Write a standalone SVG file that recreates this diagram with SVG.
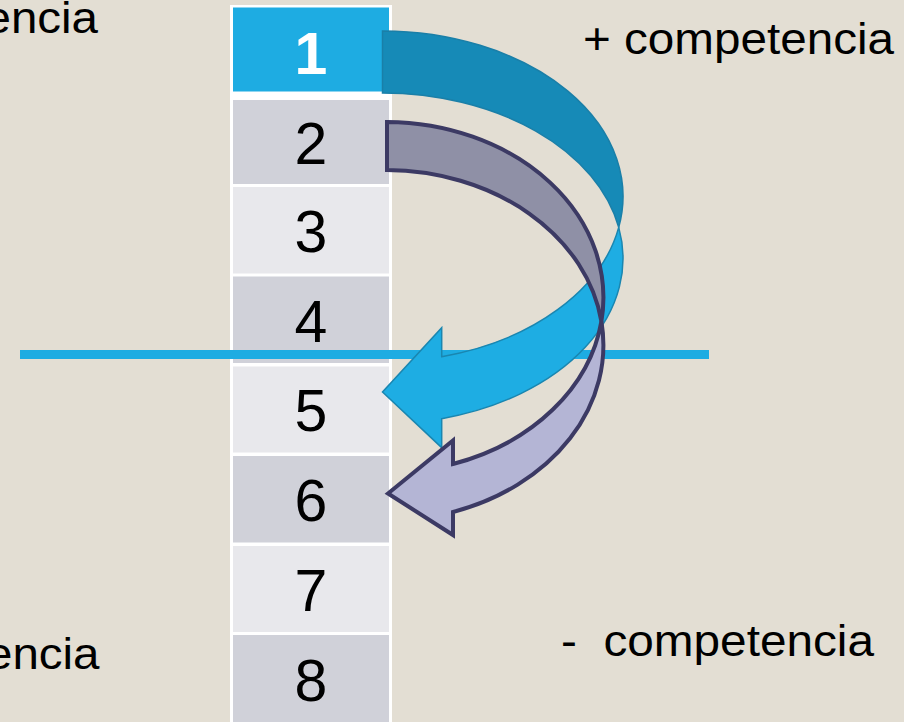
<svg xmlns="http://www.w3.org/2000/svg" width="904" height="722" viewBox="0 0 904 722">
  <style>
    .lbl { font-family: "Liberation Sans", Arial, sans-serif; font-size: 44px; fill: #000; }
    .num { font-family: "Liberation Sans", Arial, sans-serif; font-size: 59px; fill: #000; text-anchor: middle; }
    .num-hd { fill: #fff; font-weight: bold; }
    .cell-hd { fill: #1EACE2; }
    .cell-a { fill: #D0D1D9; }
    .cell-b { fill: #E8E8EC; }
    .blue-back { fill: #168AB7; stroke: #1A7FA8; stroke-width: 1.5; stroke-linejoin: miter; }
    .blue-front { fill: #1EADE3; stroke: #1A86B0; stroke-width: 1.5; stroke-linejoin: miter; }
    .lav-back { fill: #8F90A6; stroke: #3C3A64; stroke-width: 4; stroke-linejoin: miter; }
    .lav-front { fill: #B4B5D5; stroke: #3C3A64; stroke-width: 4; stroke-linejoin: miter; }
  </style>

  <!-- background -->
  <rect x="0" y="0" width="904" height="722" fill="#E3DED3"/>

  <!-- side labels -->
  <g id="labels">
    <text class="lbl" x="-15.5" y="32.5" textLength="113.5" lengthAdjust="spacingAndGlyphs">encia</text>
    <text class="lbl" x="-14" y="669" textLength="113.5" lengthAdjust="spacingAndGlyphs">encia</text>
    <text class="lbl" x="583" y="53.5" textLength="311" lengthAdjust="spacingAndGlyphs">+ competencia</text>
    <text class="lbl" x="561" y="656" textLength="313" lengthAdjust="spacingAndGlyphs" xml:space="preserve">-  competencia</text>
  </g>

  <!-- ranking column -->
  <g id="table">
    <rect x="230" y="5" width="162" height="720" fill="#FFFFFF"/>
    <g id="row1"><rect class="cell-hd" x="233" y="7.5" width="156" height="84"/><text class="num num-hd" x="311" y="74">1</text></g>
    <g id="row2"><rect class="cell-a" x="233" y="100" width="156" height="84"/><text class="num" x="311" y="163.5">2</text></g>
    <g id="row3"><rect class="cell-b" x="233" y="187" width="156" height="86.5"/><text class="num" x="311" y="252">3</text></g>
    <g id="row4"><rect class="cell-a" x="233" y="276.5" width="156" height="86.5"/><text class="num" x="311" y="341.5">4</text></g>
    <g id="row5"><rect class="cell-b" x="233" y="366.5" width="156" height="86"/><text class="num" x="311" y="431">5</text></g>
    <g id="row6"><rect class="cell-a" x="233" y="456" width="156" height="86.5"/><text class="num" x="311" y="521">6</text></g>
    <g id="row7"><rect class="cell-b" x="233" y="546" width="156" height="86"/><text class="num" x="311" y="611">7</text></g>
    <g id="row8"><rect class="cell-a" x="233" y="635" width="156" height="90"/><text class="num" x="311" y="701">8</text></g>
  </g>

  <!-- cut-off line -->
  <g id="divider">
    <rect x="20" y="350" width="689" height="9" fill="#1EACE2"/>
  </g>

  <!-- curved arrows -->
  <g id="connectors">
    <g id="arrow-1-to-5">
      <path class="blue-back" d="M 382.5 31 A 241 165.4 0 0 1 618.73 227.4 A 241 165.4 0 0 0 382.5 93 Z"/>
      <path class="blue-front" d="M 618.73 227.4 A 241 165.4 0 0 1 441.7 418.65 L 441.7 447.65 L 382.5 392 L 441.7 327.65 L 441.7 356.65 A 241 165.4 0 0 0 618.73 227.4 Z"/>
    </g>
    <g id="arrow-2-to-6">
      <path class="lav-back" d="M 387 122 A 218 175.6 0 0 1 601.4 321.35 A 218 175.6 0 0 0 387 170 Z"/>
      <path class="lav-front" d="M 601.4 321.35 A 218 175.6 0 0 1 453 512 L 453 535 L 388 493.5 L 453 440.5 L 453 464 A 218 175.6 0 0 0 601.4 321.35 Z"/>
    </g>
  </g>
</svg>
